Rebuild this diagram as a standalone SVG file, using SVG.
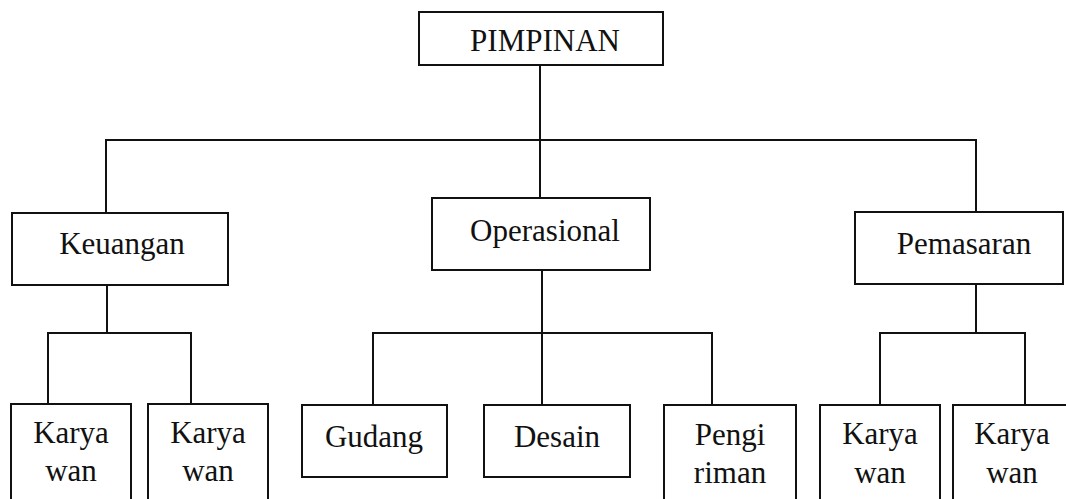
<svg xmlns="http://www.w3.org/2000/svg" width="1066" height="499" viewBox="0 0 1066 499">
  <style>
    .box { fill: #ffffff; stroke: #111111; stroke-width: 2; }
    .wire { fill: none; stroke: #111111; stroke-width: 2; }
    text { font-family: 'Liberation Serif', 'Times New Roman', Times, serif; font-size: 31px; fill: #111111; text-anchor: middle; }
  </style>
  <rect width="1066" height="499" fill="#ffffff"/>

  <!-- connectors -->
  <g id="connectors" class="wire">
    <!-- top level -->
    <path d="M540 65 V198"/>
    <path d="M106 213 V140 H976 V212"/>
    <!-- Keuangan branch -->
    <path d="M107 285 V333"/>
    <path d="M48 404 V333 H191 V404"/>
    <!-- Operasional branch -->
    <path d="M542 270 V405"/>
    <path d="M373 405 V333 H712 V405"/>
    <!-- Pemasaran branch -->
    <path d="M976 284 V333"/>
    <path d="M880 405 V333 H1025 V405"/>
  </g>

  <g id="pimpinan">
    <rect class="box" x="419" y="12" width="244" height="53"/>
    <text x="545" y="51" font-family="Liberation Serif, serif">PIMPINAN</text>
  </g>

  <g id="keuangan">
    <rect class="box" x="12" y="213" width="216" height="72"/>
    <text x="122" y="254" font-family="Liberation Serif, serif">Keuangan</text>
  </g>

  <g id="operasional">
    <rect class="box" x="432" y="198" width="218" height="72"/>
    <text x="545" y="241" font-family="Liberation Serif, serif">Operasional</text>
  </g>

  <g id="pemasaran">
    <rect class="box" x="855" y="212" width="208" height="72"/>
    <text x="964" y="254" font-family="Liberation Serif, serif">Pemasaran</text>
  </g>

  <g id="karyawan-k1">
    <rect class="box" x="11" y="404" width="120" height="110"/>
    <text x="71" y="443" font-family="Liberation Serif, serif">Karya</text>
    <text x="71" y="481" font-family="Liberation Serif, serif">wan</text>
  </g>

  <g id="karyawan-k2">
    <rect class="box" x="148" y="404" width="120" height="110"/>
    <text x="208" y="443" font-family="Liberation Serif, serif">Karya</text>
    <text x="208" y="481" font-family="Liberation Serif, serif">wan</text>
  </g>

  <g id="gudang">
    <rect class="box" x="302" y="405" width="145" height="72"/>
    <text x="374" y="447" font-family="Liberation Serif, serif">Gudang</text>
  </g>

  <g id="desain">
    <rect class="box" x="484" y="405" width="146" height="72"/>
    <text x="557" y="447" font-family="Liberation Serif, serif">Desain</text>
  </g>

  <g id="pengiriman">
    <rect class="box" x="664" y="405" width="132" height="110"/>
    <text x="730" y="445" font-family="Liberation Serif, serif">Pengi</text>
    <text x="730" y="483" font-family="Liberation Serif, serif">riman</text>
  </g>

  <g id="karyawan-p1">
    <rect class="box" x="820" y="405" width="120" height="110"/>
    <text x="880" y="444" font-family="Liberation Serif, serif">Karya</text>
    <text x="880" y="483" font-family="Liberation Serif, serif">wan</text>
  </g>

  <g id="karyawan-p2">
    <rect class="box" x="953" y="405" width="120" height="110"/>
    <text x="1012" y="444" font-family="Liberation Serif, serif">Karya</text>
    <text x="1012" y="483" font-family="Liberation Serif, serif">wan</text>
  </g>
</svg>
